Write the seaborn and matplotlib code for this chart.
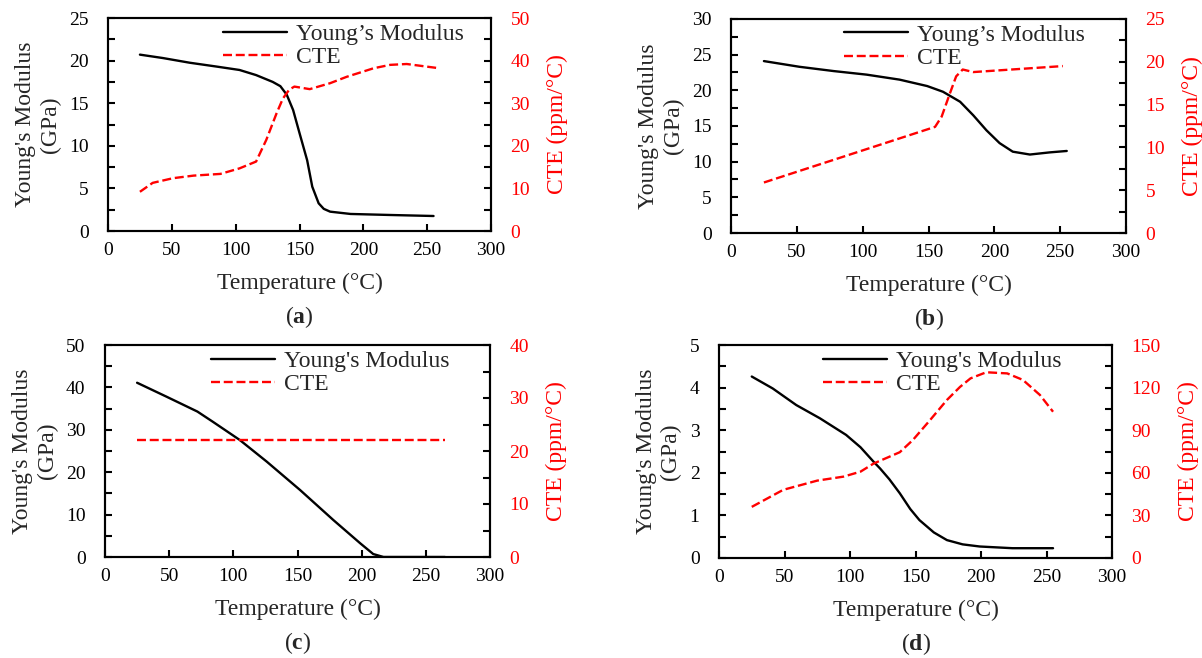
import matplotlib
matplotlib.use("Agg")
import matplotlib.pyplot as plt
import seaborn as sns
from matplotlib.ticker import MultipleLocator

sns.set_theme(style="ticks")
plt.rcParams["font.family"] = ["Liberation Serif", "DejaVu Serif"]
plt.rcParams["mathtext.fontset"] = "custom"
plt.rcParams["mathtext.rm"] = "Liberation Serif"
plt.rcParams["mathtext.bf"] = "Liberation Serif:bold"

# ---- data ----
# (a)
temp_a_E = [25, 43, 64, 85, 103, 116, 129, 135, 140, 145, 150, 156, 160, 165, 169, 174, 190, 221, 255]
E_a = [20.7, 20.3, 19.75, 19.3, 18.9, 18.3, 17.5, 17.0, 16.0, 14.2, 11.5, 8.3, 5.2, 3.25, 2.6, 2.27, 2.0, 1.88, 1.76]
temp_a_C = [25, 35, 51, 67, 88, 103, 116, 124, 132, 137, 142, 146, 152, 158, 166, 174, 187, 208, 221, 234, 257]
CTE_a = [9.2, 11.3, 12.4, 13.0, 13.4, 14.7, 16.3, 21.4, 27.6, 31.1, 33.2, 33.9, 33.6, 33.3, 34.0, 34.7, 36.2, 38.2, 39.0, 39.2, 38.3]

# (b)
temp_b_E = [25, 52, 78, 103, 128, 149, 161, 174, 184, 194, 204, 214, 227, 242, 255]
E_b = [24.1, 23.3, 22.7, 22.2, 21.5, 20.6, 19.8, 18.4, 16.5, 14.4, 12.6, 11.4, 11.0, 11.3, 11.5]
temp_b_C = [25, 155, 160, 166, 171, 176, 184, 252]
CTE_b = [5.9, 12.4, 13.6, 16.2, 18.3, 19.1, 18.8, 19.5]

# (c)
temp_c_E = [25, 48, 72, 84, 105, 126, 152, 178, 199, 209, 217, 240, 265]
E_c = [41.1, 37.8, 34.3, 31.9, 27.6, 22.5, 15.8, 8.7, 3.2, 0.7, 0.0, 0.0, 0.0]
temp_c_C = [25, 265]
CTE_c = [22.0, 22.0]

# (d)
temp_d_E = [25, 41, 59, 77, 97, 108, 118, 123, 130, 138, 146, 153, 164, 174, 186, 199, 224, 255]
E_d = [4.26, 3.98, 3.59, 3.28, 2.89, 2.6, 2.26, 2.1, 1.85, 1.52, 1.15, 0.89, 0.6, 0.42, 0.32, 0.27, 0.23, 0.23]
temp_d_C = [25, 49, 75, 95, 108, 118, 128, 138, 148, 161, 174, 184, 192, 204, 220, 232, 245, 255]
CTE_d = [36, 48, 54.5, 57.3, 60.8, 66.5, 70.5, 74.5, 83.1, 97, 111.3, 120.5, 126.5, 130.8, 130, 125.4, 114.8, 103]

panels = [
    dict(tE=temp_a_E, E=E_a, tC=temp_a_C, C=CTE_a, ylim=25, ystep=5, y2lim=50, y2step=10,
         name="Young\u2019s Modulus", letter="a", box=(108, 18, 491, 231), leg_px=222),
    dict(tE=temp_b_E, E=E_b, tC=temp_b_C, C=CTE_b, ylim=30, ystep=5, y2lim=25, y2step=5,
         name="Young\u2019s Modulus", letter="b", box=(731, 19, 1126, 233), leg_px=843),
    dict(tE=temp_c_E, E=E_c, tC=temp_c_C, C=CTE_c, ylim=50, ystep=10, y2lim=40, y2step=10,
         name="Young's Modulus", letter="c", box=(105, 345, 490, 557), leg_px=210),
    dict(tE=temp_d_E, E=E_d, tC=temp_d_C, C=CTE_d, ylim=5, ystep=1, y2lim=150, y2step=30,
         name="Young's Modulus", letter="d", box=(719, 345, 1112, 558), leg_px=822),
]

W, H = 1202, 658
fig = plt.figure(figsize=(W / 100, H / 100), dpi=100)

for p in panels:
    x0, y0, x1, y1 = p["box"]
    ax = fig.add_axes([x0 / W, 1 - y1 / H, (x1 - x0) / W, (y1 - y0) / H])
    ax2 = ax.twinx()

    sns.lineplot(x=p["tE"], y=p["E"], ax=ax, color="black", lw=1.7, sort=False,
                 errorbar=None, label=p["name"], legend=False)
    sns.lineplot(x=p["tC"], y=p["C"], ax=ax2, color="#ff0000", lw=1.7, sort=False,
                 errorbar=None, label="CTE", legend=False, linestyle=(0, (3.8, 1.6)))

    ax.set_xlim(0, 300)
    ax.set_ylim(0, p["ylim"])
    ax2.set_ylim(0, p["y2lim"])
    ax.xaxis.set_major_locator(MultipleLocator(50))
    ax.yaxis.set_major_locator(MultipleLocator(p["ystep"]))
    ax.yaxis.set_minor_locator(MultipleLocator(p["ystep"] / 2))
    ax2.yaxis.set_major_locator(MultipleLocator(p["y2step"]))
    ax2.yaxis.set_minor_locator(MultipleLocator(p["y2step"] / 2))

    for a in (ax, ax2):
        for s in a.spines.values():
            s.set_linewidth(1.5)
            s.set_color("black")
    ax.tick_params(axis="both", which="both", direction="in", length=5, width=1.5,
                   labelsize=14, colors="black", top=False, right=False)
    ax.tick_params(axis="y", pad=14)
    ax.tick_params(axis="x", pad=8)
    ax2.tick_params(axis="y", which="both", direction="in", length=5, width=1.5,
                    labelsize=14, labelcolor="#ff0000", color="black", pad=14)

    ax.set_xlabel("Temperature (\u00b0C)", fontsize=17, labelpad=10)
    ax.set_ylabel("Young's Modulus\n(GPa)", fontsize=17, labelpad=6, linespacing=1.2)
    ax2.set_ylabel("CTE (ppm/\u00b0C)", fontsize=17, color="#ff0000", labelpad=12)

    handles = [ax.get_lines()[0], ax2.get_lines()[0]]
    ax2.legend(handles, [p["name"], "CTE"], loc="upper left",
               bbox_to_anchor=((p["leg_px"] - 16 - x0) / (x1 - x0), 1.053), frameon=False,
               fontsize=17, handlelength=2.75, handletextpad=0.35, labelspacing=0.08,
               borderpad=0.2)

    fig.text(((x0 + x1) / 2) / W, 1 - (y1 + 86) / H, r"($\mathbf{%s}$)" % p["letter"],
             ha="center", va="center", fontsize=17)

fig.savefig("out.png", dpi=100)
